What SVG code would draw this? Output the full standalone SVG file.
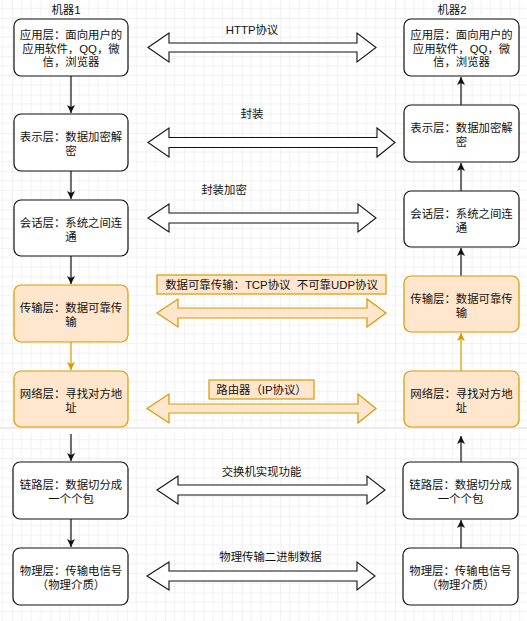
<svg xmlns="http://www.w3.org/2000/svg" width="527" height="621" viewBox="0 0 527 621">
<defs>
<style>
.t{font-family:"Liberation Sans","Noto Sans CJK SC",sans-serif;font-size:11.4px;fill:#111;text-anchor:middle;white-space:pre}
.nb{fill:#fff;stroke:#111;stroke-width:1.2}
.no{fill:#ffe6cc;stroke:#d79b00;stroke-width:1.2}
.ab{fill:#fff;stroke:#111;stroke-width:1.1;stroke-linejoin:miter}
.ao{fill:#ffe6cc;stroke:#d79b00;stroke-width:1.2;stroke-linejoin:miter}
.cb{stroke:#111;stroke-width:1.2;fill:none}
.co{stroke:#d79b00;stroke-width:1.2;fill:none}
</style>
<pattern id="grid" patternUnits="userSpaceOnUse" x="12" y="18" width="38.3" height="38.3">
<path d="M9.575 0V38.3M19.15 0V38.3M28.725 0V38.3M0 9.575H38.3M0 19.15H38.3M0 28.725H38.3" stroke="#f1f1f1" stroke-width="1" fill="none"/>
<path d="M0 0V38.3M0 0H38.3" stroke="#e3e3e3" stroke-width="1" fill="none"/>
</pattern>
<marker id="mb" markerWidth="10" markerHeight="10" refX="8" refY="4" orient="auto" markerUnits="userSpaceOnUse">
<path d="M0 0L8 4L0 8L2 4Z" fill="#111"/>
</marker>
<marker id="mo" markerWidth="10" markerHeight="10" refX="8" refY="4" orient="auto" markerUnits="userSpaceOnUse">
<path d="M0 0L8 4L0 8L2 4Z" fill="#d79b00"/>
</marker>
</defs>
<rect width="527" height="621" fill="#fff"/>
<rect width="527" height="621" fill="url(#grid)"/>
<rect x="0" y="428" width="527" height="5" fill="#fff"/>
<line x1="0" y1="428" x2="527" y2="428" stroke="#d8d8d8" stroke-width="1"/>

<g id="connectors">
<line class="cb" x1="71" y1="76" x2="71" y2="113" marker-end="url(#mb)"/>
<line class="cb" x1="71" y1="171" x2="71" y2="199" marker-end="url(#mb)"/>
<line class="cb" x1="71" y1="256" x2="71" y2="284" marker-end="url(#mb)"/>
<line class="co" x1="71" y1="342" x2="71" y2="370" marker-end="url(#mo)"/>
<line class="cb" x1="71" y1="434" x2="71" y2="461" marker-end="url(#mb)"/>
<line class="cb" x1="71" y1="519" x2="71" y2="547" marker-end="url(#mb)"/>
<line class="cb" x1="461" y1="105" x2="461" y2="77" marker-end="url(#mb)"/>
<line class="cb" x1="461" y1="191" x2="461" y2="163" marker-end="url(#mb)"/>
<line class="cb" x1="461" y1="276" x2="461" y2="248" marker-end="url(#mb)"/>
<line class="co" x1="461" y1="371" x2="461" y2="333" marker-end="url(#mo)"/>
<line class="cb" x1="461" y1="462" x2="461" y2="436" marker-end="url(#mb)"/>
<line class="cb" x1="461" y1="548" x2="461" y2="520" marker-end="url(#mb)"/>
<polygon class="ab" points="148,47.5 169,33 169,43 357,43 357,33 376,47.5 357,62 357,52 169,52 169,62"/>
<polygon class="ab" points="148,142.5 169,128 169,137.5 377,137.5 377,128 395,142.5 377,157 377,147.5 169,147.5 169,157"/>
<polygon class="ab" points="148,218 169,204 169,213 358,213 358,204 376,218 358,232 358,223 169,223 169,232"/>
<polygon class="ao" points="157,313 178,299 178,308 367,308 367,299 386,313 367,327 367,318 178,318 178,327"/>
<polygon class="ao" points="147,408.5 169,394 169,404 358,404 358,394 376,408.5 358,423 358,413 169,413 169,423"/>
<polygon class="ab" points="157,490 178,476 178,485 367,485 367,476 385,490 367,504 367,495 178,495 178,504"/>
<polygon class="ab" points="147,576 169,562 169,571 357,571 357,562 375,576 357,590 357,581 169,581 169,590"/>
</g>

<g id="labels">
<text class="t" x="66" y="14">机器1</text>
<text class="t" x="452" y="14">机器2</text>
<text class="t" x="252" y="33.5">HTTP协议</text>
<text class="t" x="252" y="118">封装</text>
<text class="t" x="224" y="194">封装加密</text>
<text class="t" x="261.5" y="476">交换机实现功能</text>
<text class="t" x="270.5" y="561">物理传输二进制数据</text>
</g>
<g id="label-tcp">
<rect class="no" x="157" y="275" width="229" height="19"/>
<text class="t" x="271.5" y="288.5">数据可靠传输：TCP协议  不可靠UDP协议</text>
</g>
<g id="label-ip">
<rect class="no" x="209" y="380" width="105" height="19"/>
<text class="t" x="261.5" y="393.5">路由器（IP协议）</text>
</g>

<g id="l-app">
<rect class="nb" x="14" y="19" width="114" height="57" rx="7"/>
<text class="t" x="71" y="39">应用层：面向用户的</text>
<text class="t" x="71" y="52.5">应用软件，QQ，微</text>
<text class="t" x="71" y="66">信，浏览器</text>
</g>
<g id="l-pres">
<rect class="nb" x="14" y="114" width="114" height="57" rx="7"/>
<text class="t" x="71" y="141">表示层：数据加密解</text>
<text class="t" x="71" y="155">密</text>
</g>
<g id="l-sess">
<rect class="nb" x="14" y="200" width="114" height="56" rx="7"/>
<text class="t" x="71" y="227">会话层：系统之间连</text>
<text class="t" x="71" y="241">通</text>
</g>
<g id="l-trans">
<rect class="no" x="14" y="285" width="114" height="57" rx="7"/>
<text class="t" x="71" y="312">传输层：数据可靠传</text>
<text class="t" x="71" y="326">输</text>
</g>
<g id="l-net">
<rect class="no" x="14" y="371" width="114" height="56" rx="7"/>
<text class="t" x="71" y="398">网络层：寻找对方地</text>
<text class="t" x="71" y="412">址</text>
</g>
<g id="l-link">
<rect class="nb" x="13" y="462" width="115" height="57" rx="7"/>
<text class="t" x="71" y="489">链路层：数据切分成</text>
<text class="t" x="71" y="503">一个个包</text>
</g>
<g id="l-phys">
<rect class="nb" x="13" y="548" width="115" height="57" rx="7"/>
<text class="t" x="71" y="575">物理层：传输电信号</text>
<text class="t" x="71" y="589">（物理介质）</text>
</g>

<g id="r-app">
<rect class="nb" x="404" y="19" width="115" height="57" rx="7"/>
<text class="t" x="461.5" y="39">应用层：面向用户的</text>
<text class="t" x="461.5" y="52.5">应用软件，QQ，微</text>
<text class="t" x="461.5" y="66">信，浏览器</text>
</g>
<g id="r-pres">
<rect class="nb" x="404" y="105" width="115" height="57" rx="7"/>
<text class="t" x="461.5" y="132">表示层：数据加密解</text>
<text class="t" x="461.5" y="146">密</text>
</g>
<g id="r-sess">
<rect class="nb" x="404" y="191" width="115" height="56" rx="7"/>
<text class="t" x="461.5" y="218">会话层：系统之间连</text>
<text class="t" x="461.5" y="232">通</text>
</g>
<g id="r-trans">
<rect class="no" x="404" y="276" width="115" height="56" rx="7"/>
<text class="t" x="461.5" y="303">传输层：数据可靠传</text>
<text class="t" x="461.5" y="317">输</text>
</g>
<g id="r-net">
<rect class="no" x="404" y="371" width="115" height="56" rx="7"/>
<text class="t" x="461.5" y="398">网络层：寻找对方地</text>
<text class="t" x="461.5" y="412">址</text>
</g>
<g id="r-link">
<rect class="nb" x="403" y="462" width="115" height="57" rx="7"/>
<text class="t" x="460.5" y="489">链路层：数据切分成</text>
<text class="t" x="460.5" y="503">一个个包</text>
</g>
<g id="r-phys">
<rect class="nb" x="403" y="548" width="115" height="57" rx="7"/>
<text class="t" x="460.5" y="575">物理层：传输电信号</text>
<text class="t" x="460.5" y="589">（物理介质）</text>
</g>
</svg>
